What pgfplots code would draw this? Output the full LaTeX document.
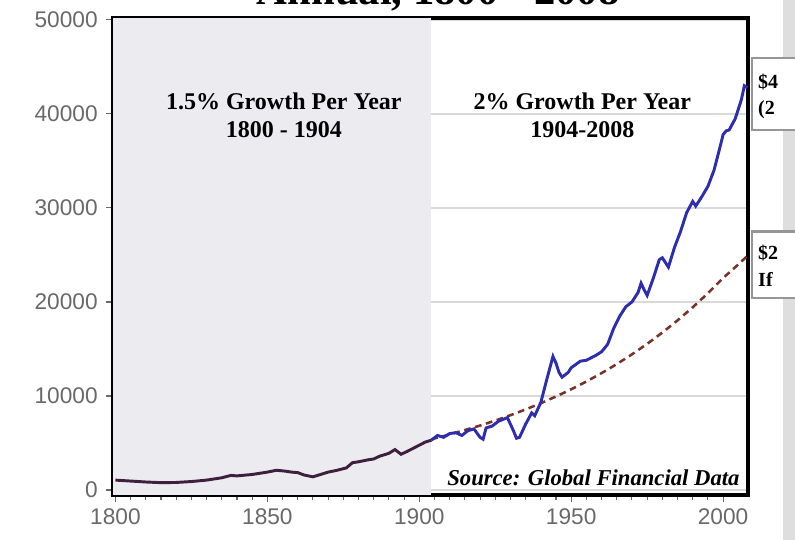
\documentclass[border=0pt]{standalone}
\usepackage{fontspec}
\setmainfont{Liberation Serif}
\newfontfamily\sansfont{Liberation Sans}
\usepackage{pgfplots}
\pgfplotsset{compat=1.18}
\definecolor{bgshade}{RGB}{236,235,240}
\definecolor{blueline}{RGB}{45,45,175}
\definecolor{darkline}{RGB}{62,32,62}
\definecolor{trend}{RGB}{120,50,40}
\definecolor{tickgray}{RGB}{105,105,105}
\definecolor{boxgray}{RGB}{150,150,150}
\definecolor{stripgray}{RGB}{222,222,222}
\begin{document}
\begin{tikzpicture}
\begin{axis}[
  set layers,
  scale only axis, width=476.25pt, height=357.75pt,
  xmin=1799.2, xmax=2008.2, ymin=-530, ymax=50210,
  clip=false,
  axis line style={line width=3pt, black},
  xtick={1800,1850,...,2000}, minor x tick num=9,
  ytick={0,10000,...,50000},
  scaled ticks=false,
  tick pos=left, tick align=outside,
  tick style={tickgray, line width=0.8pt},
  major tick length=5pt, minor tick length=3.5pt,
  ymajorgrids, grid style={gray!30, line width=1pt},
  ticklabel style={font=\sansfont\fontsize{17}{17}\selectfont, text=tickgray},
  yticklabel style={xshift=-3pt},
  xticklabel style={yshift=-2pt},
  /pgf/number format/assume math mode=true,
  /pgf/number format/set thousands separator={},
]
\fill[bgshade, on layer=axis background] (axis cs:1799.2,-530) rectangle (axis cs:1904,50210);

% trend (1.5% per year extended)
\addplot[trend, line width=1.9pt, dash pattern=on 5pt off 3.5pt] coordinates {
(1904,5400) (1910,5904) (1920,6853) (1925,7382) (1930,7953) (1935,8567) (1940,9229)
(1945,9943) (1950,10711) (1955,11539) (1960,12431) (1965,13391) (1970,14426)
(1975,15541) (1980,16742) (1985,18036) (1990,19430) (1995,20931) (2000,22549)
(2004,23700) (2008,24900)};

% actual, 1800-1904
\addplot[darkline, line width=2.2pt] coordinates {
(1800,1050) (1805,950) (1810,850) (1815,780) (1820,800) (1825,900) (1830,1050)
(1835,1300) (1838,1550) (1840,1500) (1845,1650) (1850,1900) (1853,2100) (1856,2000)
(1858,1900) (1860,1850) (1862,1600) (1865,1400) (1868,1700) (1870,1900) (1873,2100)
(1876,2350) (1878,2900) (1880,3000) (1883,3200) (1885,3300) (1887,3600) (1890,3900)
(1892,4300) (1894,3800) (1896,4100) (1899,4600) (1902,5100) (1904,5300)};

% actual, 1904-2008
\addplot[blueline, line width=2.2pt] coordinates {
(1904,5300) (1906,5800) (1908,5600) (1910,6000) (1912,6100) (1914,5800) (1916,6300)
(1918,6500) (1920,5600) (1921,5400) (1922,6600) (1924,6800) (1926,7300) (1929,7700)
(1930,7000) (1931,6300) (1932,5500) (1933,5600) (1935,7000) (1937,8200) (1938,7900)
(1940,9300) (1942,11800) (1944,14200) (1945,13500) (1946,12500) (1947,12000)
(1949,12500) (1950,13000) (1953,13700) (1955,13800) (1958,14300) (1960,14700)
(1962,15500) (1964,17200) (1966,18500) (1968,19500) (1970,20000) (1972,21000)
(1973,22000) (1974,21300) (1975,20700) (1977,22500) (1979,24500) (1980,24700)
(1982,23700) (1984,25800) (1986,27500) (1988,29500) (1990,30700) (1991,30200)
(1993,31200) (1995,32300) (1997,34000) (1999,36500) (2000,37800) (2001,38200)
(2002,38300) (2004,39500) (2006,41500) (2007,43000) (2008,42800)};

\node[font=\bfseries\fontsize{18}{21}\selectfont, align=center] at (rel axis cs:0.269,0.795)
  {1.5\% Growth Per Year\\1800 - 1904};
\node[font=\bfseries\fontsize{18}{21}\selectfont, align=center] at (rel axis cs:0.739,0.795)
  {2\% Growth Per Year\\1904-2008};
\node[font=\bfseries\itshape\fontsize{17}{17}\selectfont, anchor=east, inner sep=0pt] at (rel axis cs:0.987,0.036)
  {Source: Global Financial Data};
\node[font=\bfseries\fontsize{32}{32}\selectfont, anchor=base] at (rel axis cs:0.512,1.029)
  {Annual, 1800 - 2008};

% right side boxes (cut off)
\fill[stripgray] (rel axis cs:1.055,-0.094) rectangle (rel axis cs:1.08,1.04);
\draw[boxgray, line width=2pt, fill=white] (rel axis cs:1.0063,0.916) rectangle (rel axis cs:1.09,0.765);
\draw[boxgray, line width=2pt, fill=white] (rel axis cs:1.0063,0.553) rectangle (rel axis cs:1.09,0.413);
\node[font=\bfseries\fontsize{15}{15}\selectfont, anchor=west, inner sep=0pt] at (rel axis cs:1.0157,0.866) {\$4};
\node[font=\bfseries\fontsize{15}{15}\selectfont, anchor=west, inner sep=0pt] at (rel axis cs:1.0157,0.807) {(2};
\node[font=\bfseries\fontsize{15}{15}\selectfont, anchor=west, inner sep=0pt] at (rel axis cs:1.0157,0.507) {\$2};
\node[font=\bfseries\fontsize{15}{15}\selectfont, anchor=west, inner sep=0pt] at (rel axis cs:1.0157,0.451) {If};

\coordinate (BL) at (rel axis cs:-0.178,-0.0943);
\coordinate (TR) at (rel axis cs:1.074,1.0377);
\end{axis}
\pgfresetboundingbox
\path (BL) rectangle (TR);
\end{tikzpicture}
\end{document}
